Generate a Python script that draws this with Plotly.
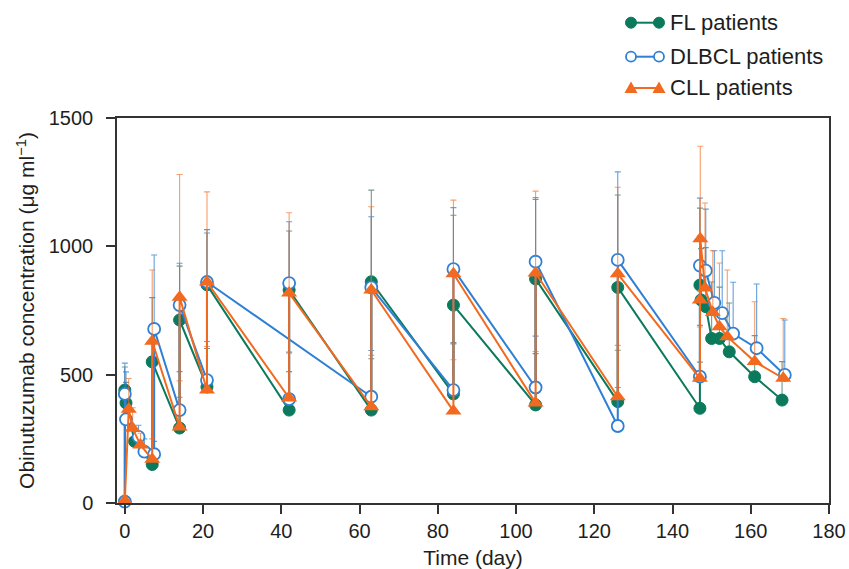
import plotly.graph_objects as go

# ---------------- data ----------------
fl_days = [0, 0, 0.3, 2.5, 7, 7, 14, 14, 21, 21, 42, 42, 63, 63, 84, 84, 105, 105,
           126, 126, 147, 147, 147.3, 148.5, 150, 152, 154.5, 161, 168]
fl_conc = [5, 440, 390, 240, 150, 550, 292, 713, 452, 850, 362, 830, 362, 862, 425, 771,
           382, 873, 395, 840, 369, 849, 791, 765, 641, 641, 589, 492, 401]
fl_err = [20, 90, 80, 50, 60, 250, 120, 210, 150, 215, 150, 230, 200, 357, 200, 350,
          200, 310, 200, 360, 180, 300, 200, 230, 220, 200, 190, 160, 150]

dlbcl_days = [0, 0, 0.3, 3.5, 5, 7.5, 7.5, 14, 14, 21, 21, 63, 63, 84, 84, 105, 105,
              126, 126, 147, 147, 148.5, 150.7, 152.7, 155.5, 161.5, 168.7]
dlbcl_conc = [5, 425, 326, 258, 200, 190, 678, 362, 771, 479, 861, 414, 840, 440, 911,
              450, 940, 300, 947, 492, 925, 905, 780, 740, 660, 603, 499]
dlbcl_err = [20, 120, 185, 45, 50, 50, 288, 150, 163, 150, 191, 180, 275, 180, 240,
             200, 250, 150, 343, 200, 263, 240, 203, 243, 200, 250, 214]
# DLBCL day-42 samples (drawn as their own pre/post segment)
dlbcl42_days = [42, 42]
dlbcl42_conc = [405, 857]
dlbcl42_err = [180, 239]

cll_days = [0, 1, 2, 4, 7, 7, 14, 14, 21, 21, 42, 42, 63, 63, 84, 84, 105, 105,
            126, 126, 147, 147, 147.1, 148.3, 150.3, 152, 154, 161, 168.3]
cll_conc = [10, 365, 291, 226, 170, 630, 296, 802, 440, 861, 409, 818, 375, 830, 358, 893,
            390, 896, 414, 893, 486, 791, 1030, 838, 742, 687, 648, 551, 486]
cll_err = [20, 120, 80, 46, 80, 278, 180, 478, 170, 351, 180, 313, 200, 324, 200, 287,
           200, 319, 200, 337, 200, 250, 360, 331, 241, 248, 260, 233, 233]

x_ticks = [0, 20, 40, 60, 80, 100, 120, 140, 160, 180]
y_ticks = [0, 500, 1000, 1500]
legend_labels = ["FL patients", "DLBCL patients", "CLL patients"]

# ---------------- style ----------------
GREEN = "#0b7a5c"
BLUE = "#2f80d4"
ORANGE = "#f26a1f"
FONT = "Liberation Sans, Arial, Helvetica, sans-serif"
TXT = "#1e1e1e"

fig = go.Figure()


def add_series(days, conc, err, color, err_color, marker):
    fig.add_trace(go.Scatter(
        x=days, y=conc, mode="lines+markers",
        line=dict(color=color, width=2),
        marker=marker,
        error_y=dict(type="data", symmetric=False, array=err,
                     arrayminus=[0] * len(err), color=err_color,
                     thickness=1.1, width=3),
        cliponaxis=False, showlegend=False, hoverinfo="x+y",
    ))


green_marker = dict(symbol="circle", size=12, color=GREEN, line=dict(color=GREEN, width=1))
blue_marker = dict(symbol="circle", size=12, color="white", line=dict(color=BLUE, width=1.8))
orange_marker = dict(symbol="triangle-up", size=14, color=ORANGE, line=dict(color=ORANGE, width=0))

add_series(fl_days, fl_conc, fl_err, GREEN, "rgba(70,120,105,0.75)", green_marker)
add_series(dlbcl42_days, dlbcl42_conc, dlbcl42_err, BLUE, "rgba(47,128,212,0.75)", blue_marker)
add_series(dlbcl_days, dlbcl_conc, dlbcl_err, BLUE, "rgba(47,128,212,0.75)", blue_marker)
add_series(cll_days, cll_conc, cll_err, ORANGE, "rgba(242,106,31,0.65)", orange_marker)

# ---------------- layout geometry ----------------
# the page body margin is removed (post_script), so figure pixels == screen pixels
W, H = 849, 569
PL, PR, PT, PB = 117, 829, 118, 503          # plot area in screen pixels
L, T = PL, PT
R, B = W - PR, H - PB
pw, ph = PR - PL, PB - PT


def px2paper(sx, sy):
    return (sx - PL) / pw, (PB - sy) / ph


# ---------------- manual legend (marker-line-marker) ----------------
rows_py = [22.7, 56.7, 88.0]
cols = [GREEN, BLUE, ORANGE]
shapes = []
annotations = []
for i, (py, col, lab) in enumerate(zip(rows_py, cols, legend_labels)):
    ax_, ay_ = px2paper(645, py)
    shapes.append(dict(type="line", xref="paper", yref="paper", xsizemode="pixel",
                       ysizemode="pixel", xanchor=ax_, yanchor=ay_,
                       x0=-14, x1=14, y0=0, y1=0, line=dict(color=col, width=2)))
    for dx in (-14, 14):
        if i == 0:
            shapes.append(dict(type="circle", xref="paper", yref="paper", xsizemode="pixel",
                               ysizemode="pixel", xanchor=ax_, yanchor=ay_,
                               x0=dx - 5.5, x1=dx + 5.5, y0=-5.5, y1=5.5,
                               fillcolor=GREEN, line=dict(color=GREEN, width=1)))
        elif i == 1:
            shapes.append(dict(type="circle", xref="paper", yref="paper", xsizemode="pixel",
                               ysizemode="pixel", xanchor=ax_, yanchor=ay_,
                               x0=dx - 5, x1=dx + 5, y0=-5, y1=5,
                               fillcolor="white", line=dict(color=BLUE, width=1.8)))
        else:
            shapes.append(dict(type="path", xref="paper", yref="paper", xsizemode="pixel",
                               ysizemode="pixel", xanchor=ax_, yanchor=ay_,
                               path=f"M {dx-6.5},-5 L {dx+6.5},-5 L {dx},6.5 Z",
                               fillcolor=ORANGE, line=dict(color=ORANGE, width=0)))
    tx, ty = px2paper(668, py)
    annotations.append(dict(text=lab, x=tx, y=ty, xref="paper", yref="paper",
                            xanchor="left", yanchor="middle", showarrow=False,
                            font=dict(family=FONT, size=22, color=TXT)))

fig.update_layout(
    width=W, height=H,
    margin=dict(l=L, r=R, t=T, b=B, autoexpand=False),
    paper_bgcolor="white", plot_bgcolor="white",
    font=dict(family=FONT, size=20, color=TXT),
    showlegend=False,
    shapes=shapes, annotations=annotations,
    xaxis=dict(range=[-2, 180], tickmode="array", tickvals=x_ticks,
               ticktext=[str(v) for v in x_ticks], automargin=False,
               ticklabeloverflow="allow",
               showgrid=False, zeroline=False, showline=True, mirror=True,
               linecolor="#333333", linewidth=1.5, ticks="outside", ticklen=9,
               tickwidth=1.5, tickcolor="#333333",
               tickfont=dict(family=FONT, size=20, color=TXT),
               title=dict(text="Time (day)", standoff=10,
                          font=dict(family=FONT, size=21, color=TXT))),
    yaxis=dict(range=[0, 1500], tickmode="array", tickvals=y_ticks,
               ticktext=[str(v) for v in y_ticks], automargin=False,
               ticklabeloverflow="allow",
               showgrid=False, zeroline=False, showline=True, mirror=True,
               linecolor="#333333", linewidth=1.5, ticks="outside", ticklen=9,
               tickwidth=1.5, tickcolor="#333333", ticklabelstandoff=9,
               tickfont=dict(family=FONT, size=20, color=TXT),
               title=dict(text="Obinutuzumab concentration (μg ml<sup>−1</sup>)",
                          standoff=8, font=dict(family=FONT, size=21, color=TXT))),
)

fig.write_html(
    "out.html",
    config={"displayModeBar": False},
    post_script="document.body.style.margin='0';document.body.style.overflow='hidden';",
)
